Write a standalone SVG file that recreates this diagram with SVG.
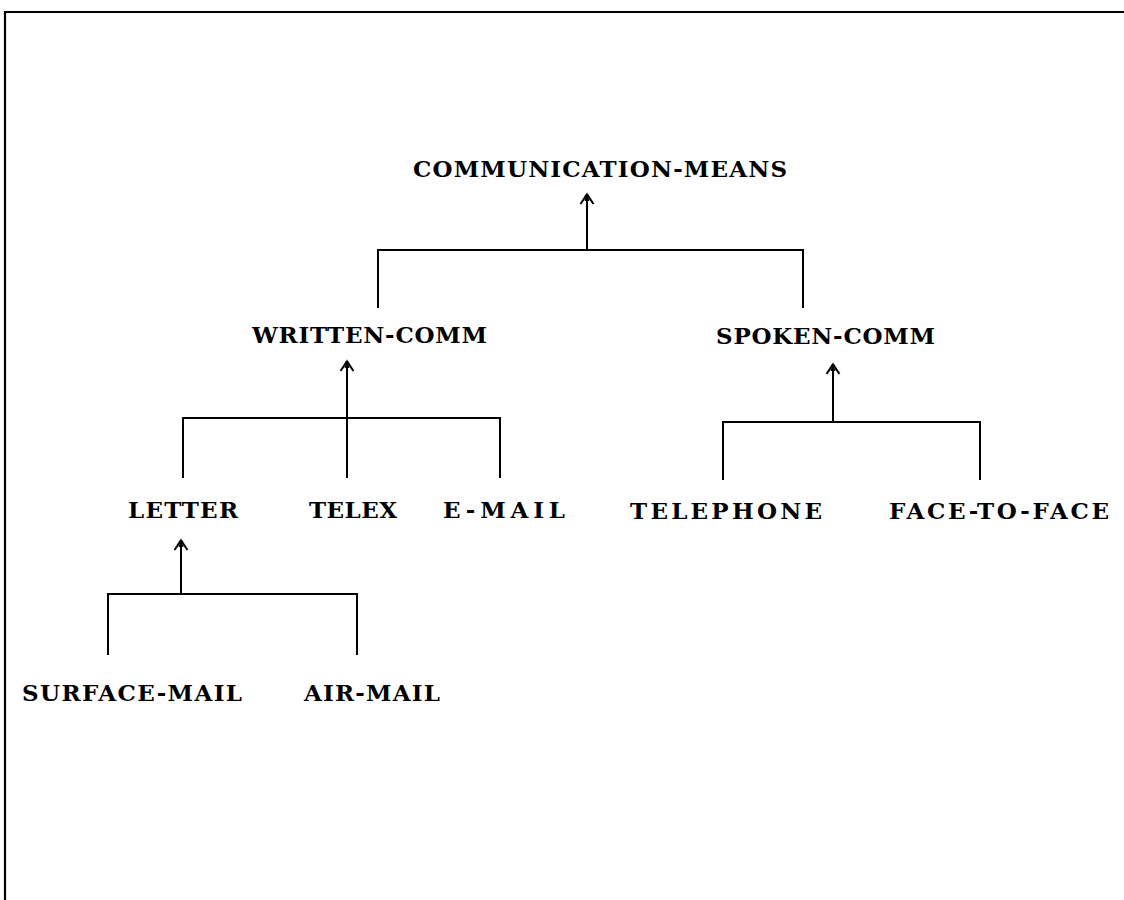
<svg xmlns="http://www.w3.org/2000/svg" xmlns:xlink="http://www.w3.org/1999/xlink" width="1124" height="900" viewBox="0 0 1124 900">
  <style>
    .label { font-family: "DejaVu Serif", "Liberation Serif", serif; font-weight: bold; font-size: 23px; fill: #000; }
    .link { fill: none; stroke: #000; stroke-width: 2; }
    .frame { fill: none; stroke: #000; stroke-width: 2.2; }
  </style>
  <defs>
    <!-- open arrowhead with a small solid tip; origin at the point -->
    <g id="head">
      <path d="M0,-1 L-2.4,8 L2.4,8 Z" fill="#000"/>
      <path d="M0,1 Q-3,6 -6.5,11 M0,1 Q3,6 6.5,11" fill="none" stroke="#000" stroke-width="2"/>
    </g>
  </defs>

  <rect width="1124" height="900" fill="#fff"/>

  <!-- page frame: top and left edges -->
  <path class="frame" d="M5,900 V12 H1124"/>

  <g id="connectors">
    <!-- COMMUNICATION-MEANS children -->
    <path class="link" d="M587,195 V250"/>
    <use xlink:href="#head" x="587" y="193"/>
    <path class="link" d="M378,308 V250 H803 V308"/>

    <!-- WRITTEN-COMM children -->
    <path class="link" d="M347,362 V478"/>
    <use xlink:href="#head" x="347" y="360"/>
    <path class="link" d="M183,478 V418 H500 V478"/>

    <!-- SPOKEN-COMM children -->
    <path class="link" d="M833,365 V422"/>
    <use xlink:href="#head" x="833" y="363"/>
    <path class="link" d="M723,480 V422 H980 V480"/>

    <!-- LETTER children -->
    <path class="link" d="M181,541 V594"/>
    <use xlink:href="#head" x="181" y="539"/>
    <path class="link" d="M108,655 V594 H357 V655"/>
  </g>

  <g id="communication-means"><text class="label" x="413" y="177" textLength="374" lengthAdjust="spacing">COMMUNICATION-MEANS</text></g>
  <g id="written-comm"><text class="label" x="252" y="343" textLength="235" lengthAdjust="spacing">WRITTEN-COMM</text></g>
  <g id="spoken-comm"><text class="label" x="716" y="344" textLength="219" lengthAdjust="spacing">SPOKEN-COMM</text></g>
  <g id="letter"><text class="label" x="128" y="518" textLength="110" lengthAdjust="spacing">LETTER</text></g>
  <g id="telex"><text class="label" x="309" y="518" textLength="88" lengthAdjust="spacing">TELEX</text></g>
  <g id="e-mail"><text class="label" x="443" y="518" textLength="122" lengthAdjust="spacing">E-MAIL</text></g>
  <g id="telephone"><text class="label" x="630" y="519" textLength="192" lengthAdjust="spacing">TELEPHONE</text></g>
  <g id="face-to-face"><text class="label" x="889" y="519" textLength="220" lengthAdjust="spacing">FACE-TO-FACE</text></g>
  <g id="surface-mail"><text class="label" x="22" y="701" textLength="220" lengthAdjust="spacing">SURFACE-MAIL</text></g>
  <g id="air-mail"><text class="label" x="304" y="701" textLength="136" lengthAdjust="spacing">AIR-MAIL</text></g>
</svg>
